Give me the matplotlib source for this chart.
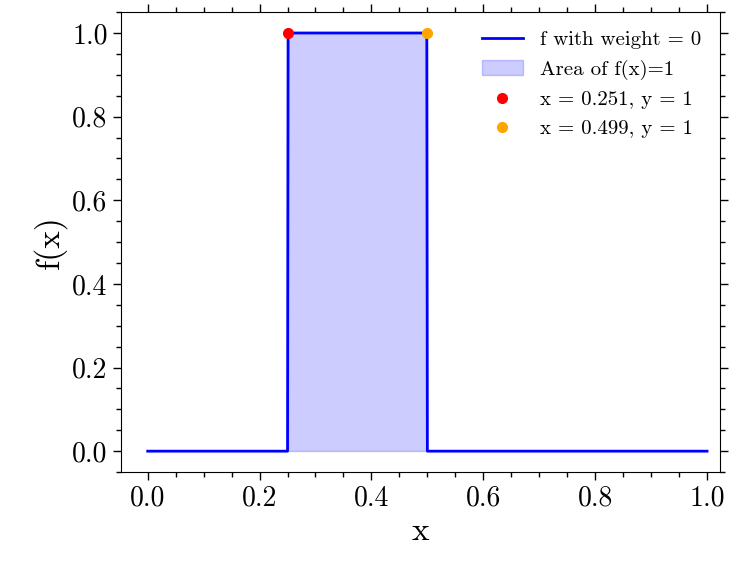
import numpy as np
import matplotlib.pyplot as plt

plt.rcParams["font.family"] = "cmr10"
plt.rcParams["mathtext.fontset"] = "cm"
plt.rcParams["axes.formatter.use_mathtext"] = True

# step function f with weight = 0
x_line = [0.0, 0.25, 0.251, 0.499, 0.5, 1.0]
y_line = [0.0, 0.0, 1.0, 1.0, 0.0, 0.0]
x_fill = [0.251, 0.499]
y_fill = [1.0, 1.0]
pt1 = (0.251, 1)
pt2 = (0.499, 1)

fig, ax = plt.subplots(figsize=(7.46, 5.75), dpi=100)
fig.subplots_adjust(left=0.162, right=0.965, top=0.979, bottom=0.179)

ax.plot(x_line, y_line, color="blue", lw=2, label="f with weight = 0")
ax.fill_between(x_fill, y_fill, color="blue", alpha=0.2, label="Area of f(x)=1")
ax.plot(*pt1, "o", color="red", ms=7, ls="none", label="x = 0.251, y = 1")
ax.plot(*pt2, "o", color="orange", ms=7, ls="none", label="x = 0.499, y = 1")

ax.set_xlabel("x", fontsize=24)
ax.set_ylabel("f(x)", fontsize=24)
ax.set_xticks([0.0, 0.2, 0.4, 0.6, 0.8, 1.0])
ax.set_yticks([0.0, 0.2, 0.4, 0.6, 0.8, 1.0])
ax.set_xticklabels(["0.0", "0.2", "0.4", "0.6", "0.8", "1.0"])
ax.set_yticklabels(["0.0", "0.2", "0.4", "0.6", "0.8", "1.0"])
ax.minorticks_on()
ax.tick_params(which="both", direction="out", top=True, right=True, labelsize=20)
ax.tick_params(which="major", length=6, width=1)
ax.tick_params(which="minor", length=3.5, width=1)
ax.set_xlim(-0.048, 1.023)
ax.set_ylim(-0.05, 1.05)
ax.legend(loc="upper right", fontsize=15, frameon=False)

plt.savefig("out.png", dpi=100)
